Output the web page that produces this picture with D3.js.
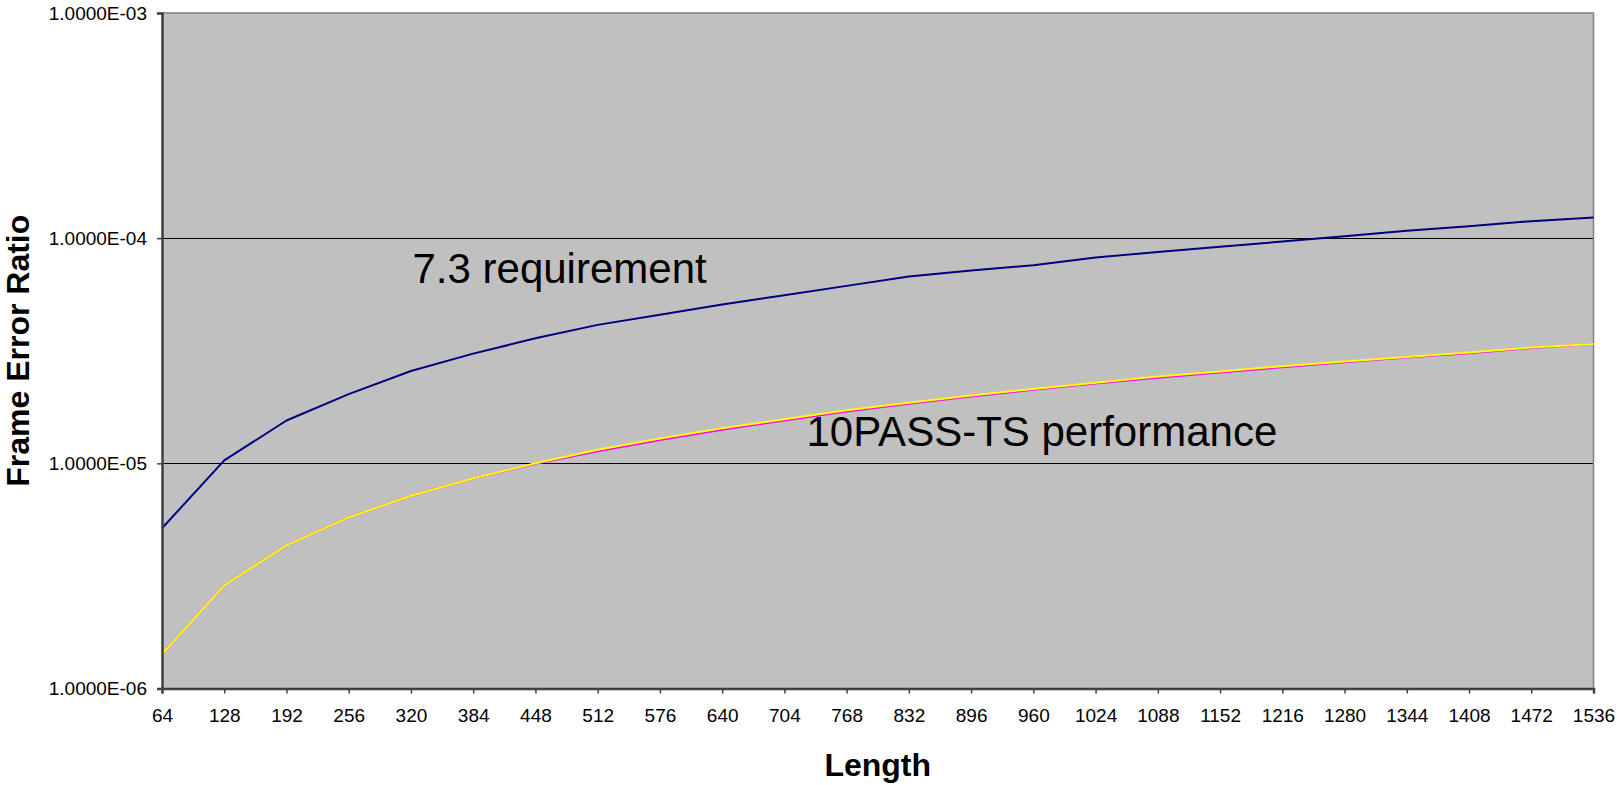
<!DOCTYPE html>
<html>
<head>
<meta charset="utf-8">
<script src="https://cdn.jsdelivr.net/npm/d3@7"></script>
<style>
  html, body { margin: 0; padding: 0; background: #fff; }
  svg { display: block; font-family: "Liberation Sans", Arial, sans-serif; }
</style>
</head>
<body>
<svg id="chart" width="1617" height="785"></svg>
<script>
// ---- data ----
const lengths = [64,128,192,256,320,384,448,512,576,640,704,768,832,896,960,1024,1088,1152,1216,1280,1344,1408,1472,1536];
const requirement = [5.15e-6,1.03e-5,1.55e-5,2.03e-5,2.57e-5,3.07e-5,3.59e-5,4.12e-5,4.57e-5,5.08e-5,5.58e-5,6.14e-5,6.75e-5,7.19e-5,7.58e-5,8.2e-5,8.69e-5,9.16e-5,9.66e-5,1.02e-4,1.08e-4,1.13e-4,1.19e-4,1.235e-4];
const perfMagenta = [1.42e-6,2.87e-6,4.32e-6,5.75e-6,7.18e-6,8.58e-6,9.95e-6,1.13e-5,1.27e-5,1.41e-5,1.55e-5,1.70e-5,1.84e-5,1.98e-5,2.12e-5,2.26e-5,2.40e-5,2.53e-5,2.67e-5,2.81e-5,2.95e-5,3.08e-5,3.25e-5,3.39e-5];
const perfYellow = [1.42e-6,2.87e-6,4.32e-6,5.75e-6,7.18e-6,8.58e-6,1.0e-5,1.15e-5,1.29e-5,1.43e-5,1.57e-5,1.72e-5,1.86e-5,2.00e-5,2.14e-5,2.28e-5,2.43e-5,2.56e-5,2.70e-5,2.83e-5,2.97e-5,3.11e-5,3.27e-5,3.39e-5];
const yTicks = [1e-6,1e-5,1e-4,1e-3];
const annotations = [
  {text: "7.3 requirement", len: 64, val: 1e-4},
  {text: "10PASS-TS performance", len: 960, val: 1e-5}
];

// ---- layout ----
const svg = d3.select("#chart");
const L = 162, R = 1593.5, T = 13, B = 688.5;

const x = d3.scalePoint().domain(lengths).range([L, R]);
const y = d3.scaleLog().domain([1e-6, 1e-3]).range([B, T]);

const fmt = d => {
  const [m, e] = d.toExponential(4).split("e");
  const sign = e[0] === "-" ? "-" : "+";
  const digits = e.replace(/[-+]/, "").padStart(2, "0");
  return m + "E" + sign + digits;
};

// plot background
svg.append("rect")
  .attr("x", L).attr("y", T)
  .attr("width", R - L).attr("height", B - T)
  .attr("fill", "#C0C0C0");

// gridlines
svg.append("g").selectAll("line")
  .data(yTicks.filter(v => v > 1e-6 && v < 1e-3))
  .join("line")
  .attr("x1", L).attr("x2", R)
  .attr("y1", d => Math.round(y(d)) + 0.5).attr("y2", d => Math.round(y(d)) + 0.5)
  .attr("stroke", "#000").attr("stroke-width", 1.2);

// top & right border
svg.append("path")
  .attr("d", `M${L},${T}H${R}V${B}`)
  .attr("fill", "none").attr("stroke", "#808080").attr("stroke-width", 1.5);

// series
const line = d3.line().x((d, i) => x(lengths[i])).y(d => y(d));
const series = [
  {vals: requirement, color: "#000080"},
  {vals: perfMagenta, color: "#FF00FF"},
  {vals: perfYellow, color: "#FFFF00"}
];
svg.append("g").selectAll("path")
  .data(series)
  .join("path")
  .attr("d", d => line(d.vals))
  .attr("fill", "none")
  .attr("stroke", d => d.color)
  .attr("stroke-width", 2)
  .attr("stroke-linejoin", "round");

// y axis
const yAxis = d3.axisLeft(y).tickValues(yTicks).tickFormat(fmt).tickSize(5).tickPadding(10);
const gy = svg.append("g").attr("transform", `translate(${L},0)`).call(yAxis);
gy.select(".domain").attr("stroke", "#404040").attr("stroke-width", 2.5);
gy.selectAll(".tick line").attr("stroke", "#404040").attr("stroke-width", 1.5);
gy.selectAll(".tick text").attr("font-size", 19).attr("fill", "#000")
  .attr("font-family", "Liberation Sans, Arial, sans-serif");

// x axis
const xAxis = d3.axisBottom(x).tickSize(5).tickPadding(15);
const gx = svg.append("g").attr("transform", `translate(0,${B})`).call(xAxis);
gx.select(".domain").attr("stroke", "#404040").attr("stroke-width", 2.5);
gx.selectAll(".tick line").attr("stroke", "#404040").attr("stroke-width", 1.5);
gx.selectAll(".tick text").attr("font-size", 19).attr("fill", "#000")
  .attr("font-family", "Liberation Sans, Arial, sans-serif");

// annotations
svg.append("text")
  .attr("x", 412.5).attr("y", 283)
  .attr("font-size", 42).attr("fill", "#000")
  .text(annotations[0].text);
svg.append("text")
  .attr("x", 806.5).attr("y", 446)
  .attr("font-size", 42).attr("fill", "#000")
  .text(annotations[1].text);

// axis titles
svg.append("text")
  .attr("transform", `translate(29,${(T + B) / 2}) rotate(-90)`)
  .attr("text-anchor", "middle")
  .attr("font-size", 32).attr("font-weight", "bold").attr("fill", "#000")
  .text("Frame Error Ratio");
svg.append("text")
  .attr("x", (L + R) / 2).attr("y", 776)
  .attr("text-anchor", "middle")
  .attr("font-size", 32).attr("font-weight", "bold").attr("fill", "#000")
  .text("Length");
</script>
</body>
</html>
